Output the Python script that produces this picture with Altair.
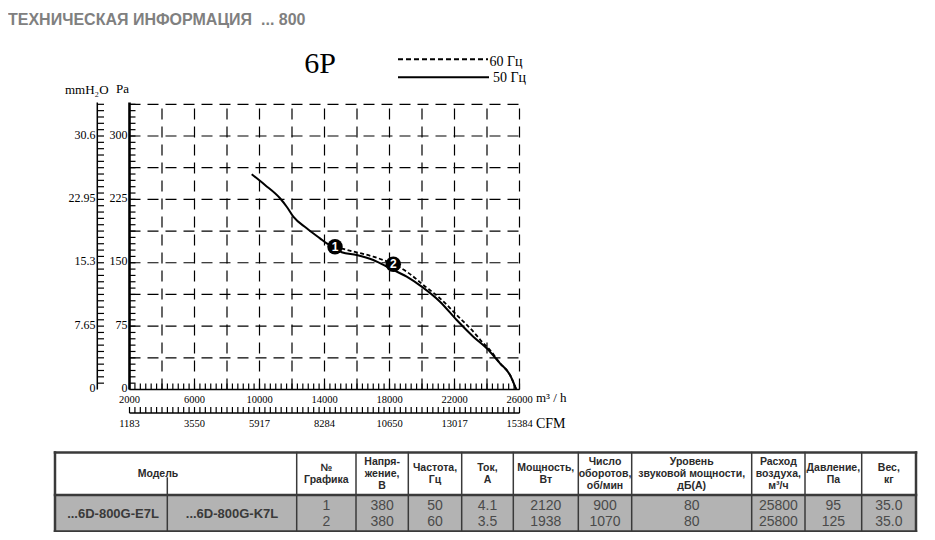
import altair as alt
import numpy as np
import pandas as pd

# ---------------- data ----------------
flow_50 = [9520, 10339, 11262, 11674, 12080, 12905, 13723, 14136, 14646, 15059, 15982,
           17003, 18031, 19059, 19982, 21108, 22136, 23158, 23982, 24800, 25416, 25800]
pres_50 = [254.7, 242.0, 226.3, 216.3, 204.5, 190.8, 178.9, 173.0, 169.0, 162.4, 159.2,
           153.3, 143.4, 133.5, 121.7, 103.9, 82.2, 62.5, 48.8, 31.0, 17.2, 0.0]
flow_60 = [14646, 15772, 17003, 18234, 19059, 20080, 21108, 22136, 23158, 23773, 24185,
           24800, 25416, 25800]
pres_60 = [169.0, 163.3, 157.2, 148.2, 139.4, 123.7, 107.9, 88.2, 68.4, 54.7, 46.7,
           31.0, 17.2, 0.0]
point_ids = ["1", "2"]
point_flow = [14646, 18234]
point_pres = [169.0, 148.2]

pa_ticks = [0, 75, 150, 225, 300]
pa_labels = ["0", "75", "150", "225", "300"]
mmh2o_labels = ["0", "7.65", "15.3", "22.95", "30.6"]
flow_ticks = [2000, 6000, 10000, 14000, 18000, 22000, 26000]
flow_labels = ["2000", "6000", "10000", "14000", "18000", "22000", "26000"]
cfm_labels = ["1183", "3550", "5917", "8284", "10650", "13017", "15384"]
pa_grid = [37.5, 75, 112.5, 150, 187.5, 225, 262.5, 300, 337.5]
flow_grid = [4000, 6000, 8000, 10000, 12000, 14000, 16000, 18000, 20000, 22000, 24000, 26000]
pa_minor = list(np.arange(7.5, 340, 7.5))
flow_minor = list(np.arange(2000, 26001, 1000 / 3))

legend_labels = ["60 Гц", "50 Гц"]
title_text = "ТЕХНИЧЕСКАЯ ИНФОРМАЦИЯ\u00a0 ... 800"
chart_label = "6P"

table_headers = ["Модель", "№\nГрафика", "Напря-\nжение,\nВ", "Частота,\nГц", "Ток,\nА",
                 "Мощность,\nВт", "Число\nоборотов,\nоб/мин",
                 "Уровень\nзвуковой мощности,\nдБ(А)", "Расход\nвоздуха,\nм³/ч",
                 "Давление,\nПа", "Вес,\nкг"]
models = ["...6D-800G-E7L", "...6D-800G-K7L"]
table_rows = [
    ["1", "380", "50", "4.1", "2120", "900", "80", "25800", "95", "35.0"],
    ["2", "380", "60", "3.5", "1938", "1070", "80", "25800", "125", "35.0"],
]

# ---------------- layout (page pixels) ----------------
M = 8
def p(v):
    return v - M

X_LEFT, X_RIGHT = 129.5, 519.5
Y_ZERO, Y_300 = 389.5, 136.0
XS = alt.Scale(domain=[2000, 26000], range=[p(X_LEFT), p(X_RIGHT)], nice=False, zero=False)
YS = alt.Scale(domain=[0, 300], range=[p(Y_ZERO), p(Y_300)], nice=False, zero=False)

def X(f):
    return alt.X(f, type="quantitative", scale=XS, axis=None)

def Y(f):
    return alt.Y(f, type="quantitative", scale=YS, axis=None)

def XD(v):
    return alt.XDatum(v, type="quantitative", scale=XS, axis=None)

def YD(v):
    return alt.YDatum(v, type="quantitative", scale=YS, axis=None)

PX = lambda f: alt.X(f, type="quantitative", scale=None, axis=None)
PY = lambda f: alt.Y(f, type="quantitative", scale=None, axis=None)

one = pd.DataFrame({"a": [0]})
SERIF = "Liberation Serif"
SANS = "Liberation Sans"
layers = []

# grid
layers.append(alt.Chart(pd.DataFrame({"v": pa_grid})).mark_rule(
    color="black", strokeWidth=1.2, strokeDash=[11, 7]).encode(
    y=Y("v"), x=XD(2000), x2=alt.X2Datum(26000)))
layers.append(alt.Chart(pd.DataFrame({"v": flow_grid})).mark_rule(
    color="black", strokeWidth=1.2, strokeDash=[11, 7]).encode(
    x=X("v"), y=YD(0), y2=alt.Y2Datum(337.5)))

# axis lines
layers.append(alt.Chart(one).mark_rule(color="black", strokeWidth=1.5).encode(
    x=XD(2000), x2=alt.X2Datum(26000), y=YD(0)))
layers.append(alt.Chart(one).mark_rule(color="black", strokeWidth=2.6).encode(
    x=XD(2000), y=YD(0), y2=alt.Y2Datum(339.5)))
layers.append(alt.Chart(one).mark_rule(color="black", strokeWidth=1.5).encode(
    x=alt.value(p(97.3)), y=YD(0), y2=alt.Y2Datum(339.5)))
layers.append(alt.Chart(one).mark_rule(color="black", strokeWidth=1.5).encode(
    x=XD(2000), x2=alt.X2Datum(26000), y=alt.value(p(413))))

# minor ticks
pm = pd.DataFrame({"v": pa_minor})
layers.append(alt.Chart(pm).mark_rule(color="black", strokeWidth=1.2).encode(
    y=Y("v"), x=alt.value(p(X_LEFT)), x2=alt.value(p(135.5))))
layers.append(alt.Chart(pm).mark_rule(color="black", strokeWidth=1.2).encode(
    y=Y("v"), x=alt.value(p(97.3)), x2=alt.value(p(104))))
fm = pd.DataFrame({"v": flow_minor})
layers.append(alt.Chart(fm).mark_rule(color="black", strokeWidth=1.2).encode(
    x=X("v"), y=alt.value(p(Y_ZERO)), y2=alt.value(p(383.5))))
layers.append(alt.Chart(fm).mark_rule(color="black", strokeWidth=1.2).encode(
    x=X("v"), y=alt.value(p(413)), y2=alt.value(p(407))))

# tick labels
pl = pd.DataFrame({"v": pa_ticks, "pa": pa_labels, "mm": mmh2o_labels})
layers.append(alt.Chart(pl).mark_text(font=SERIF, fontSize=12, align="right", baseline="middle",
                                      color="black", dy=-1.5).encode(
    y=Y("v"), x=alt.value(p(127.5)), text="pa:N"))
layers.append(alt.Chart(pl).mark_text(font=SERIF, fontSize=12, align="right", baseline="middle",
                                      color="black", dy=-1.5).encode(
    y=Y("v"), x=alt.value(p(95.5)), text="mm:N"))
fl = pd.DataFrame({"v": flow_ticks, "m3": flow_labels, "cfm": cfm_labels})
layers.append(alt.Chart(fl).mark_text(font=SERIF, fontSize=10.5, align="center", baseline="middle",
                                      color="black").encode(
    x=X("v"), y=alt.value(p(399.5)), text="m3:N"))
layers.append(alt.Chart(fl).mark_text(font=SERIF, fontSize=10.5, align="center", baseline="middle",
                                      color="black").encode(
    x=X("v"), y=alt.value(p(423.5)), text="cfm:N"))

# unit labels
units = pd.DataFrame({"t": ["mmH\u2082O", "Pa", "m\u00b3 / h", "CFM"],
                      "x": [p(65), p(116), p(536), p(536)],
                      "y": [p(90), p(89), p(398), p(424)],
                      "s": [13, 13, 13, 14]})
layers.append(alt.Chart(units).mark_text(font=SERIF, align="left", baseline="middle",
                                         color="black").encode(
    x=PX("x"), y=PY("y"), text="t:N", size=alt.Size("s:Q", scale=None, legend=None)))

# curves
layers.append(alt.Chart(pd.DataFrame({"q": flow_50, "pr": pres_50})).mark_line(
    color="black", strokeWidth=2, interpolate="monotone").encode(x=X("q"), y=Y("pr")))
layers.append(alt.Chart(pd.DataFrame({"q": flow_60, "pr": pres_60})).mark_line(
    color="black", strokeWidth=1.8, strokeDash=[4, 2.5], interpolate="monotone").encode(
    x=X("q"), y=Y("pr")))

# operating points
pts = pd.DataFrame({"q": point_flow, "pr": point_pres, "id": point_ids})
layers.append(alt.Chart(pts).mark_circle(size=240, color="black", opacity=1).encode(
    x=X("q"), y=Y("pr")))
layers.append(alt.Chart(pts).mark_text(font=SANS, fontSize=12, fontWeight="bold", color="white",
                                       baseline="middle", align="center").encode(
    x=X("q"), y=Y("pr"), text="id:N"))

# legend
layers.append(alt.Chart(one).mark_rule(color="black", strokeWidth=2, strokeDash=[5, 3]).encode(
    x=alt.value(p(398)), x2=alt.value(p(488)), y=alt.value(p(59.3))))
layers.append(alt.Chart(one).mark_rule(color="black", strokeWidth=2).encode(
    x=alt.value(p(398)), x2=alt.value(p(489)), y=alt.value(p(77.3))))
leg = pd.DataFrame({"t": legend_labels, "x": [p(489.5), p(493)], "y": [p(61.5), p(78)]})
layers.append(alt.Chart(leg).mark_text(font=SERIF, fontSize=14, align="left", baseline="middle",
                                       color="black").encode(
    x=PX("x"), y=PY("y"), text="t:N"))
layers.append(alt.Chart(pd.DataFrame({"t": [chart_label], "x": [p(320)], "y": [p(64)]})).mark_text(
    font=SERIF, fontSize=30, align="center", baseline="middle", color="black").encode(
    x=PX("x"), y=PY("y"), text="t:N"))

# page title
layers.append(alt.Chart(pd.DataFrame({"t": [title_text], "x": [p(8)], "y": [p(20)]})).mark_text(
    font=SANS, fontSize=16, fontWeight="bold", align="left", baseline="middle",
    color="#808080").encode(x=PX("x"), y=PY("y"), text="t:N"))

# ---------------- table ----------------
T_L, T_R, T_T, T_H, T_B = 55, 916, 452.5, 495, 531.5
col_edges = [55, 296.7, 356, 408.3, 461.7, 513.3, 578.3, 631.7, 751.7, 805, 861.7, 916]
model_split = 167.3
layers.append(alt.Chart(pd.DataFrame({"x1": [p(T_L)], "x2": [p(T_R)], "y1": [p(T_H)],
                                      "y2": [p(T_B)]})).mark_rect(color="#b3b3b3").encode(
    x=PX("x1"), x2="x2:Q", y=PY("y1"), y2="y2:Q"))

rl = []
for e in col_edges[1:-1]:
    rl.append([p(e), p(e), p(T_T), p(T_B), 1.5])
rl.append([p(model_split), p(model_split), p(478), p(T_B), 1.5])
rl.append([p(T_L), p(T_R), p(T_H), p(T_H), 2.5])
rl.append([p(T_L), p(T_R), p(T_T), p(T_T), 2.5])
rl.append([p(T_L), p(T_R), p(T_B), p(T_B), 2.5])
rl.append([p(T_L), p(T_L), p(T_T), p(T_B), 2.5])
rl.append([p(T_R), p(T_R), p(T_T), p(T_B), 2.5])
rules = pd.DataFrame(rl, columns=["x1", "x2", "y1", "y2", "w"])
layers.append(alt.Chart(rules).mark_rule(color="#3a3a3a", strokeCap="square").encode(
    x=PX("x1"), x2="x2:Q", y=PY("y1"), y2="y2:Q",
    strokeWidth=alt.StrokeWidth("w:Q", scale=None, legend=None)))

LH = 12
centers = [(col_edges[i] + col_edges[i + 1]) / 2 for i in range(len(col_edges) - 1)]
centers[0] = 158
hdr = pd.DataFrame({"t": table_headers, "x": [p(c) for c in centers],
                    "y": [p(474 - (h.count("\n")) * LH / 2) for h in table_headers]})
layers.append(alt.Chart(hdr).mark_text(font=SANS, fontSize=10.5, fontWeight="bold", lineBreak="\n",
                                       lineHeight=LH, align="center", baseline="middle",
                                       color="#2a2a2a").encode(
    x=PX("x"), y=PY("y"), text="t:N"))

cells = []
for r, row in enumerate(table_rows):
    for c, val in enumerate(row):
        cells.append([val, p(centers[c + 1]), p([505.5, 521.5][r])])
cells = pd.DataFrame(cells, columns=["t", "x", "y"])
layers.append(alt.Chart(cells).mark_text(font=SANS, fontSize=14, align="center",
                                         baseline="middle", color="#4a4a4a").encode(
    x=PX("x"), y=PY("y"), text="t:N"))
mdl = pd.DataFrame({"t": models, "x": [p(113), p(232)], "y": [p(513.5)] * 2})
layers.append(alt.Chart(mdl).mark_text(font=SANS, fontSize=13, fontWeight="bold", align="center",
                                       baseline="middle", color="#3a3a3a").encode(
    x=PX("x"), y=PY("y"), text="t:N"))

chart = alt.layer(*layers).properties(
    width=919, height=524, autosize=alt.AutoSizeParams(type="none"), padding=0,
    background="white"
).resolve_scale(x="independent", y="independent").configure_view(stroke=None)

chart.save("out.html", embed_options={"renderer": "svg", "actions": False})
